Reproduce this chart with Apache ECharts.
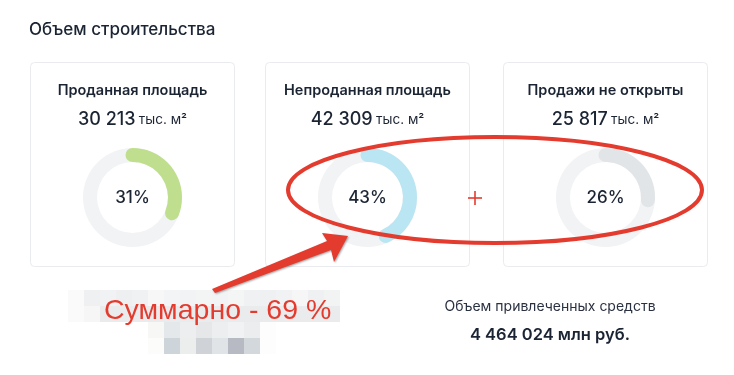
<!DOCTYPE html>
<html><head><meta charset="utf-8">
<script src="https://cdn.jsdelivr.net/npm/echarts@6/dist/echarts.min.js"></script>
<style>html,body{margin:0;padding:0;background:#fff}#c{width:734px;height:375px}</style>
</head><body><div id="c"></div>
<script>
// ---- data ----
const pageTitle = 'Объем строительства';
const cardTitles = ['Проданная площадь', 'Непроданная площадь', 'Продажи не открыты'];
const areaValues = [30213, 42309, 25817];
const areaUnit = 'тыс. м²';
const percents = [31, 43, 26];
const fundLabel = 'Объем привлеченных средств';
const fundValue = 4464024;
const fundUnit = 'млн руб.';
const annotationText = 'Суммарно - 69 %';

// ---- styles ----
const FONT = 'Inter, "Noto Sans", sans-serif';
const cardX = [30, 265, 503];
const cardW = 205;
const centers = cardX.map(x => x + cardW / 2);
const arcColors = ['#bfdf8e', '#bae5f2', '#e2e5e7'];
const RED = '#e43b2f';
const mosaic = [
  [68, 290, ['#fafafa','#eff0f1','#f1f2f3','#eeeff0','#f0f1f2','#f7f7f7','#f3f4f5','#f2f3f4','#f3f4f4','#f2f3f4','#f4f5f5','#f0f1f2','#eef0f1','#f1f2f3','#f6f6f6','#eff0f1','#f2f3f3']],
  [68, 306, ['#fafafa','#f6f6f6','#e9ebed','#e9ebed','#e9ebed','#e9ebed','#e9ebed','#e9ebed','#e9ebed','#e9ebed','#e9ebed','#e9ebed','#e9ebed','#e9ebed','#e9ebed','#e9ebed','#e9ebed']],
  [148, 322, ['#f7f7f6','#e5e8ea','#eceeef','#e5e7e9','#eceeef','#f1f2f3','#ebedef','#fdfdfd']],
  [148, 338, ['#fcfcfb','#cdd4da','#eceeee','#cfd3d7','#e1e4e6','#b7bac2','#d3d8dc','#fcfdfc']]
];

function fmt(n) { return String(n).replace(/\B(?=(\d{3})+(?!\d))/g, ' '); }

const chart = echarts.init(document.getElementById('c'));

const graphics = [];
// page title
graphics.push({ type: 'text', x: 29, y: 30, style: { text: pageTitle, font: '500 17px ' + FONT, fill: '#1b2433', verticalAlign: 'middle' } });
// cards
cardTitles.forEach((t, i) => {
  graphics.push({ type: 'rect', shape: { x: cardX[i] + 0.5, y: 62.5, width: cardW - 1, height: 204, r: 4 }, style: { fill: '#fff', stroke: '#e9ebee', lineWidth: 1 }, z: -1 });
  graphics.push({ type: 'text', x: centers[i], y: 91, style: { text: t, font: '600 14.5px ' + FONT, fill: '#1b2433', align: 'center', verticalAlign: 'middle' } });
  graphics.push({ type: 'text', x: centers[i], y: 120, style: {
    text: '{a|' + fmt(areaValues[i]) + '} {b|' + areaUnit + '}',
    align: 'center', verticalAlign: 'middle',
    rich: { a: { font: '500 18px ' + FONT, fill: '#1b2433' }, b: { font: '400 13.5px ' + FONT, fill: '#1b2433' } }
  } });
});
// bottom fund block
graphics.push({ type: 'text', x: 550, y: 307, style: { text: fundLabel, font: '400 14px ' + FONT, fill: '#2a3140', align: 'center', verticalAlign: 'middle' } });
graphics.push({ type: 'text', x: 550, y: 335, style: { text: fmt(fundValue) + ' ' + fundUnit, font: '600 16.5px ' + FONT, fill: '#1b2433', align: 'center', verticalAlign: 'middle' } });
// mosaic
mosaic.forEach(([x0, y0, cols]) => cols.forEach((c, k) => {
  graphics.push({ type: 'rect', shape: { x: x0 + k * 16, y: y0, width: 16, height: 16 }, style: { fill: c }, z: 5 });
}));
// annotation text
graphics.push({ type: 'text', x: 104, y: 311, style: { text: annotationText, font: '400 28.5px "Liberation Sans", Arial, sans-serif', fill: RED, verticalAlign: 'middle' }, z: 20 });
// ellipse
graphics.push({ type: 'ellipse', shape: { cx: 495, cy: 190, rx: 207, ry: 53 }, style: { fill: 'none', stroke: RED, lineWidth: 4 }, z: 20 });
// plus
graphics.push({ type: 'line', shape: { x1: 468, y1: 198, x2: 482, y2: 198 }, style: { stroke: RED, lineWidth: 1.6 }, z: 20 });
graphics.push({ type: 'line', shape: { x1: 475, y1: 191, x2: 475, y2: 205 }, style: { stroke: RED, lineWidth: 1.6 }, z: 20 });
// arrow
graphics.push({ type: 'polygon', shape: { points: [[212, 289], [327, 241], [322, 233], [348, 236], [334, 262], [331, 250], [215, 293]] },
  style: { fill: RED, shadowColor: 'rgba(0,0,0,0.35)', shadowBlur: 2, shadowOffsetX: 1, shadowOffsetY: 1 }, z: 20 });

const series = percents.map((p, i) => ({
  type: 'gauge',
  center: [centers[i], 197.5],
  radius: 49.5,
  startAngle: 90,
  endAngle: -270,
  min: 0, max: 100,
  pointer: { show: false },
  axisTick: { show: false }, splitLine: { show: false }, axisLabel: { show: false },
  axisLine: { lineStyle: { width: 14, color: [[1, '#f2f3f5']] } },
  progress: { show: true, width: 14, roundCap: true, itemStyle: { color: arcColors[i] } },
  title: { show: false },
  detail: { valueAnimation: false, offsetCenter: [0, 0], formatter: '{value}%', fontFamily: 'Inter, "Noto Sans", sans-serif', fontSize: 17, fontWeight: 500, color: '#1b2433' },
  data: [{ value: p }],
  animation: false
}));

chart.setOption({ animation: false, series: series, graphic: graphics });
</script>
</body></html>
